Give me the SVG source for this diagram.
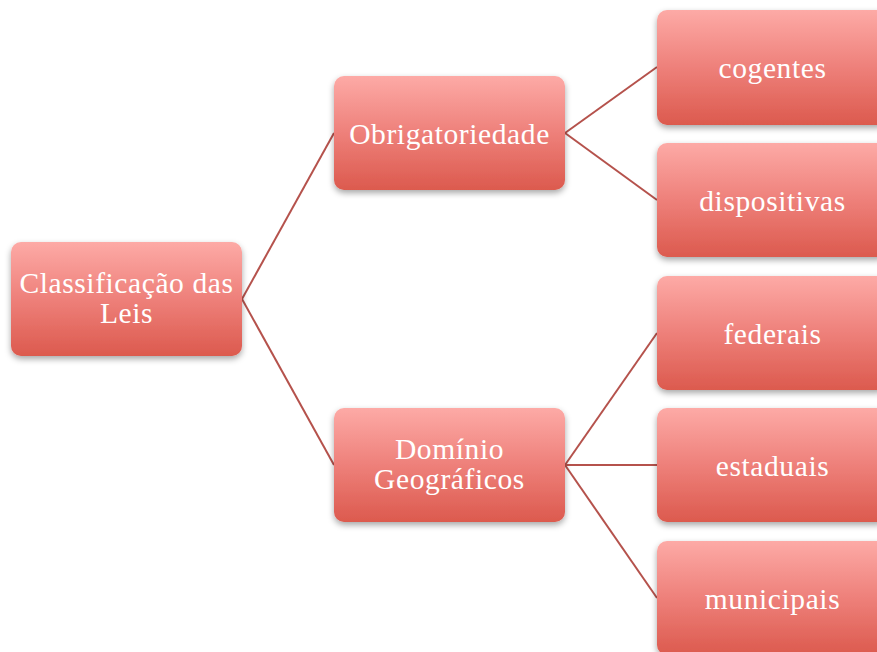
<svg xmlns="http://www.w3.org/2000/svg" width="877" height="652" viewBox="0 0 877 652">
<style>
.box{fill:url(#g);filter:url(#sh)}
.t{font-family:"Liberation Serif","DejaVu Serif",serif;font-size:29.5px;letter-spacing:0.6px;fill:#ffffff;text-anchor:middle}
.c{stroke:#b5524c;stroke-width:2;fill:none}
</style>
<defs>
<linearGradient id="g" x1="0" y1="0" x2="0" y2="1">
<stop offset="0" stop-color="#fdaaa6"/>
<stop offset="0.5" stop-color="#ee807a"/>
<stop offset="1" stop-color="#dc5a4e"/>
</linearGradient>
<filter id="sh" x="-10%" y="-10%" width="120%" height="130%">
<feDropShadow dx="0" dy="3" stdDeviation="3" flood-color="#000" flood-opacity="0.35"/>
</filter>
</defs>
<rect width="877" height="652" fill="#ffffff"/>
<g id="connectors">
<line class="c" x1="242" y1="299" x2="334" y2="133"/>
<line class="c" x1="242" y1="299" x2="334" y2="465"/>
<line class="c" x1="565" y1="133" x2="657" y2="67"/>
<line class="c" x1="565" y1="133" x2="657" y2="200"/>
<line class="c" x1="565" y1="465" x2="657" y2="333"/>
<line class="c" x1="565" y1="465" x2="657" y2="465"/>
<line class="c" x1="565" y1="465" x2="657" y2="598"/>
</g>
<g id="root">
<rect class="box" x="11" y="242" width="231" height="114" rx="10"/>
<text class="t" x="126.5" y="293">Classificação das</text>
<text class="t" x="126.5" y="323">Leis</text>
</g>
<g id="obrigatoriedade">
<rect class="box" x="334" y="76" width="231" height="114" rx="10"/>
<text class="t" x="449.5" y="144">Obrigatoriedade</text>
</g>
<g id="dominio">
<rect class="box" x="334" y="408" width="231" height="114" rx="10"/>
<text class="t" x="449.5" y="459">Domínio</text>
<text class="t" x="449.5" y="489">Geográficos</text>
</g>
<g id="cogentes">
<rect class="box" x="657" y="10" width="231" height="115" rx="10"/>
<text class="t" x="772.5" y="78">cogentes</text>
</g>
<g id="dispositivas">
<rect class="box" x="657" y="143" width="231" height="114" rx="10"/>
<text class="t" x="772.5" y="211">dispositivas</text>
</g>
<g id="federais">
<rect class="box" x="657" y="276" width="231" height="114" rx="10"/>
<text class="t" x="772.5" y="344">federais</text>
</g>
<g id="estaduais">
<rect class="box" x="657" y="408" width="231" height="114" rx="10"/>
<text class="t" x="772.5" y="476">estaduais</text>
</g>
<g id="municipais">
<rect class="box" x="657" y="541" width="231" height="114" rx="10"/>
<text class="t" x="772.5" y="609">municipais</text>
</g>
</svg>
